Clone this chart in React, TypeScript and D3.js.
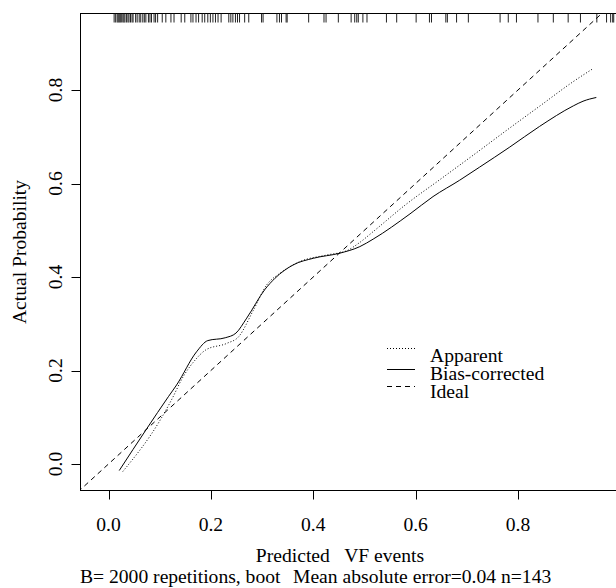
import React, { useEffect, useRef } from 'react';
import * as d3 from 'd3';

// values
const apparentX = [0.028, 0.101, 0.123, 0.146, 0.169, 0.19, 0.231, 0.254, 0.283, 0.309, 0.335, 0.374, 0.426, 0.465, 0.491, 0.517, 0.582, 0.647, 0.713, 0.778, 0.843, 0.908, 0.947];
const apparentY = [-0.016, 0.094, 0.137, 0.187, 0.222, 0.244, 0.258, 0.272, 0.329, 0.383, 0.408, 0.433, 0.447, 0.456, 0.474, 0.497, 0.556, 0.608, 0.661, 0.714, 0.766, 0.818, 0.846];

const biasX = [0.021, 0.075, 0.117, 0.133, 0.172, 0.194, 0.228, 0.249, 0.27, 0.306, 0.325, 0.361, 0.4, 0.452, 0.491, 0.517, 0.589, 0.634, 0.686, 0.725, 0.784, 0.842, 0.908, 0.927, 0.953];
const biasY = [-0.014, 0.076, 0.144, 0.169, 0.24, 0.264, 0.27, 0.28, 0.312, 0.374, 0.397, 0.426, 0.44, 0.451, 0.465, 0.481, 0.535, 0.572, 0.607, 0.635, 0.678, 0.722, 0.766, 0.776, 0.784];

// predicted probabilities shown as the rug at the top
const rugX = [
  0.011, 0.014, 0.017, 0.019, 0.021, 0.023, 0.025, 0.028, 0.03, 0.032, 0.035, 0.038, 0.04, 0.043, 0.046, 0.048,
  0.053, 0.056, 0.06, 0.063, 0.067, 0.07, 0.073, 0.078, 0.081, 0.084, 0.089, 0.092, 0.096, 0.105, 0.112, 0.122,
  0.128, 0.142, 0.149, 0.161, 0.165, 0.171, 0.176, 0.183, 0.188, 0.194, 0.199, 0.204, 0.209, 0.214, 0.22, 0.235,
  0.239, 0.243, 0.248, 0.252, 0.256, 0.266, 0.274, 0.299, 0.302, 0.329, 0.334, 0.338, 0.347, 0.349, 0.391, 0.421,
  0.425, 0.449, 0.474, 0.481, 0.485, 0.488, 0.497, 0.505, 0.543, 0.563, 0.601, 0.627, 0.631, 0.659, 0.662, 0.68,
  0.703, 0.765, 0.781, 0.797, 0.839, 0.869, 0.898, 0.922, 0.954, 0.973, 0.981, 0.985, 0.987
];

const xTicks = [0, 0.2, 0.4, 0.6, 0.8];
const yTicks = [0, 0.2, 0.4, 0.6, 0.8];
const legendLabels = ['Apparent', 'Bias-corrected', 'Ideal'];
const legendDash = ['1,2', null, '5,4'];

const xLabel = 'Predicted   VF events';
const yLabel = 'Actual Probability';
const subLeft = 'B= 2000 repetitions, boot';
const subRight = 'Mean absolute error=0.04 n=143';

const W = 616;
const H = 588;
const FONT = '"Liberation Serif", "Times New Roman", serif';
const FS = 19.6;

const CalibrationPlot = () => {
  const svgRef = useRef<SVGSVGElement>(null);

  useEffect(() => {
    const svg = d3.select(svgRef.current);
    svg.selectAll('*').remove();

    const x = d3.scaleLinear().domain([0, 0.8]).range([108.5, 518]);
    const y = d3.scaleLinear().domain([0, 0.8]).range([464, 90]);

    const box = { left: 80.5, top: 13.5, right: 640, bottom: 490.5 };

    svg.append('defs').append('clipPath').attr('id', 'plotclip')
      .append('rect')
      .attr('x', box.left).attr('y', box.top)
      .attr('width', box.right - box.left).attr('height', box.bottom - box.top);

    const g = svg.append('g').attr('font-family', FONT).attr('fill', '#000');

    // frame
    g.append('rect')
      .attr('x', box.left).attr('y', box.top)
      .attr('width', box.right - box.left).attr('height', box.bottom - box.top)
      .attr('fill', 'none').attr('stroke', '#000').attr('stroke-width', 1);

    // x axis
    g.selectAll('.xtick').data(xTicks).enter().append('line')
      .attr('x1', d => Math.round(x(d)) + 0.5).attr('x2', d => Math.round(x(d)) + 0.5)
      .attr('y1', box.bottom).attr('y2', box.bottom + 9)
      .attr('stroke', '#000');
    g.selectAll('.xlab').data(xTicks).enter().append('text')
      .attr('x', d => x(d)).attr('y', 531)
      .attr('text-anchor', 'middle').attr('font-size', FS)
      .text(d => d3.format('.1f')(d));

    // y axis
    g.selectAll('.ytick').data(yTicks).enter().append('line')
      .attr('y1', d => Math.round(y(d)) + 0.5).attr('y2', d => Math.round(y(d)) + 0.5)
      .attr('x1', box.left - 9).attr('x2', box.left)
      .attr('stroke', '#000');
    g.selectAll('.ylab').data(yTicks).enter().append('text')
      .attr('transform', d => `translate(62,${y(d)}) rotate(-90)`)
      .attr('text-anchor', 'middle').attr('font-size', FS)
      .text(d => d3.format('.1f')(d));

    // titles
    g.append('text')
      .attr('x', 340).attr('y', 562)
      .attr('text-anchor', 'middle').attr('font-size', FS)
      .style('white-space', 'pre')
      .text(xLabel);
    g.append('text')
      .attr('transform', `translate(26,${(box.top + box.bottom) / 2}) rotate(-90)`)
      .attr('text-anchor', 'middle').attr('font-size', FS)
      .text(yLabel);
    g.append('text')
      .attr('x', 80).attr('y', 583).attr('font-size', FS)
      .text(subLeft);
    g.append('text')
      .attr('x', 293).attr('y', 583).attr('font-size', FS)
      .text(subRight);

    const plot = g.append('g').attr('clip-path', 'url(#plotclip)');

    // rug of predicted values
    plot.selectAll('.rug').data(rugX).enter().append('line')
      .attr('x1', d => x(d)).attr('x2', d => x(d))
      .attr('y1', box.top).attr('y2', box.top + 9)
      .attr('stroke', '#222').attr('stroke-width', 1);

    // ideal line
    plot.append('line')
      .attr('x1', x(-0.06)).attr('y1', y(-0.06))
      .attr('x2', x(1.05)).attr('y2', y(1.05))
      .attr('stroke', '#000').attr('stroke-dasharray', '5,4');

    const line = d3.line<number>()
      .curve(d3.curveMonotoneX);

    // apparent (dotted)
    plot.append('path')
      .attr('d', line.x(d => x(apparentX[d])).y(d => y(apparentY[d]))(d3.range(apparentX.length)))
      .attr('fill', 'none').attr('stroke', '#000').attr('stroke-dasharray', '1,2');

    // bias-corrected (solid)
    plot.append('path')
      .attr('d', line.x(d => x(biasX[d])).y(d => y(biasY[d]))(d3.range(biasX.length)))
      .attr('fill', 'none').attr('stroke', '#000');

    // legend
    const legendLineY = [348.5, 369.5, 386.5];
    const legendTextY = [362, 380, 398];
    legendLabels.forEach((label, i) => {
      const ln = g.append('line')
        .attr('x1', 387).attr('x2', 415)
        .attr('y1', legendLineY[i]).attr('y2', legendLineY[i])
        .attr('stroke', '#000');
      if (legendDash[i]) ln.attr('stroke-dasharray', legendDash[i]);
      g.append('text')
        .attr('x', 430).attr('y', legendTextY[i]).attr('font-size', FS)
        .text(label);
    });
  }, []);

  return <svg ref={svgRef} width={W} height={H} style={{ position: 'absolute', left: 0, top: 0, background: '#fff' }} />;
};

export default function App() {
  return <CalibrationPlot />;
}
